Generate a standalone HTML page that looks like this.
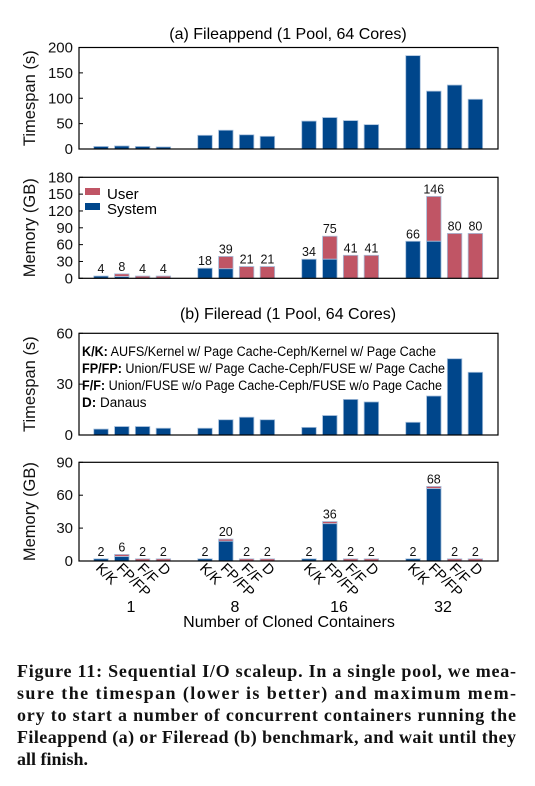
<!DOCTYPE html>
<html><head><meta charset="utf-8"><style>
html,body{margin:0;padding:0;background:#fff;}
svg{display:block;font-family:"Liberation Sans",sans-serif;}
.tk{font-size:15px;fill:#111;}
.vl{font-size:12.5px;fill:#111;text-anchor:middle;}
.cap{font-family:"Liberation Serif",serif;font-weight:bold;font-size:18px;fill:#111;}
</style></head><body>
<svg id="chart" width="535" height="786" viewBox="0 0 535 786" xmlns="http://www.w3.org/2000/svg">
<g id="root"></g>
<g>
<text class="cap" x="17" y="677" textLength="499" lengthAdjust="spacing">Figure 11: Sequential I/O scaleup. In a single pool, we mea-</text>
<text class="cap" x="17" y="699" textLength="499" lengthAdjust="spacing">sure the timespan (lower is better) and maximum mem-</text>
<text class="cap" x="17" y="721" textLength="499" lengthAdjust="spacing">ory to start a number of concurrent containers running the</text>
<text class="cap" x="17" y="743" textLength="499" lengthAdjust="spacing">Fileappend (a) or Fileread (b) benchmark, and wait until they</text>
<text class="cap" x="17" y="765">all finish.</text>
</g>
</svg>
<script>
const groups = ["1","8","16","32"];
const methods = ["K/K","FP/FP","F/F","D"];
const timeA = [5,6,5,4, 27,37,28,25, 55,62,56,48, 184,114,126,98];
const memSysA = [4,3,0,0, 18,17,0,0, 34,34,0,0, 66,66,0,0];
const memUserA = [0,5,4,4, 0,22,21,21, 0,41,41,41, 0,80,80,80];
const memLabelA = [4,8,4,4, 18,39,21,21, 34,75,41,41, 66,146,80,80];
const timeB = [3.5,5,5,4, 4,9,10.5,9, 4.5,11.5,21,19.5, 7.5,23,45,37];
const memSysB = [2,4,0,0, 2,18,0,0, 2,34,0,0, 2,66,0,0];
const memUserB = [0,2,2,2, 0,2,2,2, 0,2,2,2, 0,2,2,2];
const memLabelB = [2,6,2,2, 2,20,2,2, 2,36,2,2, 2,68,2,2];
const ticksTA = [0,50,100,150,200];
const ticksMA = [0,30,60,90,120,150,180];
const ticksTB = [0,30,60];
const ticksMB = [0,30,60,90];

const NS="http://www.w3.org/2000/svg";
const root=document.getElementById('root');
const BLUE="#00468b", RED="#c05565", EDGE="#a8c0dc";
function mk(tag,attrs,parent,txt){const e=document.createElementNS(NS,tag);for(const k in attrs)e.setAttribute(k,attrs[k]);if(txt!==undefined)e.textContent=txt;(parent||root).appendChild(e);return e;}
const X0=79,X1=498;
function xc(i){const g=Math.floor(i/4),j=i%4;return 101+20.8*(g*5+j);}
const BW=14.5;

function panel(name,top,bot,max,ticks,title){
  const g=mk('g',{});
  
  
  const y=v=>bot-(v/max)*(bot-top);
  ticks.forEach(t=>{
    const tt=mk('text',{class:'tk',x:X0-6,y:y(t)+5,'text-anchor':'end'},g,String(t));
    
    
    mk('line',{x1:X0,x2:X0+4,y1:y(t),y2:y(t),stroke:'#000','stroke-width':1},g);
  });
  const at=mk('text',{transform:`translate(35,${(top+bot)/2}) rotate(-90)`,'text-anchor':'middle',style:'font-size:16.5px;fill:#111'},g,title);
  
  
  return {g,y};
}
function frame(g,top,bot){
  const r=mk('rect',{x:X0,y:top,width:X1-X0,height:bot-top,fill:'none',stroke:'#000','stroke-width':1.2},g);
  
  
}
function bar(g,i,y0,y1,color){
  const r=mk('rect',{x:xc(i)-BW/2,y:y1,width:BW,height:Math.max(0,y0-y1),fill:color,stroke:EDGE,'stroke-width':0.8},g);
  
  
}
function simple(name,top,bot,max,ticks,title,data){
  const p=panel(name,top,bot,max,ticks,title);
  data.forEach((v,i)=>bar(p.g,i,p.y(0),p.y(v),BLUE));
  frame(p.g,top,bot);
  return p;
}
function stacked(name,top,bot,max,ticks,title,sys,user,labels){
  const p=panel(name,top,bot,max,ticks,title);
  sys.forEach((s,i)=>{
    if(user[i]>0) bar(p.g,i,p.y(s),p.y(s+user[i]),RED);
    if(s>0) bar(p.g,i,p.y(0),p.y(s),BLUE);
    const t=mk('text',{class:'vl',x:xc(i),y:p.y(s+user[i])-3},p.g,String(labels[i]));
    
    
  });
  frame(p.g,top,bot);
  return p;
}
const t1=mk('text',{x:288,y:39,'text-anchor':'middle',style:'font-size:16px'},root,'(a) Fileappend (1 Pool, 64 Cores)');


simple('timespan-fileappend-panel',47.5,149,200,ticksTA,'Timespan (s)',timeA);
const pA=stacked('memory-fileappend-panel',177.3,278.3,180,ticksMA,'Memory (GB)',memSysA,memUserA,memLabelA);
const lg=mk('g',{},pA.g);


const l1=mk('rect',{x:85,y:188,width:15,height:7,fill:RED},lg);


const l1t=mk('text',{x:107,y:199,style:'font-size:15px'},lg,'User');


const l2=mk('rect',{x:85,y:203,width:15,height:7,fill:BLUE},lg);


const l2t=mk('text',{x:107,y:214,style:'font-size:15px'},lg,'System');



const t2=mk('text',{x:288,y:319,'text-anchor':'middle',style:'font-size:16px'},root,'(b) Fileread (1 Pool, 64 Cores)');


const pB=simple('timespan-fileread-panel',333.3,435,60,ticksTB,'Timespan (s)',timeB);
const notes=[["K/K:"," AUFS/Kernel w/ Page Cache-Ceph/Kernel w/ Page Cache",354],["FP/FP:"," Union/FUSE w/ Page Cache-Ceph/FUSE w/ Page Cache",363],["F/F:"," Union/FUSE w/o Page Cache-Ceph/FUSE w/o Page Cache",360],["D:"," Danaus",0]];
notes.forEach((n,k)=>{
  const attrs={x:82,y:356+17*k,style:'font-size:13.5px'};
  if(n[2]) {attrs.textLength=n[2];attrs.lengthAdjust='spacingAndGlyphs';}
  const t=mk('text',attrs,pB.g);
  
  
  mk('tspan',{'font-weight':'bold'},t,n[0]);
  mk('tspan',{},t,n[1]);
});
stacked('memory-fileread-panel',462.3,561,90,ticksMB,'Memory (GB)',memSysB,memUserB,memLabelB);

for(let i=0;i<16;i++){
  const t=mk('text',{transform:`translate(${xc(i)-6},${569}) rotate(45)`,style:'font-size:14.5px'},root,methods[i%4]);
  
  
}
groups.forEach((g,k)=>{
  const t=mk('text',{x:xc(k*4)+30,y:612,'text-anchor':'middle',style:'font-size:16px'},root,g);
  
  
});
const xt=mk('text',{x:289,y:627,'text-anchor':'middle',style:'font-size:16px'},root,'Number of Cloned Containers');


</script>
</body></html>
